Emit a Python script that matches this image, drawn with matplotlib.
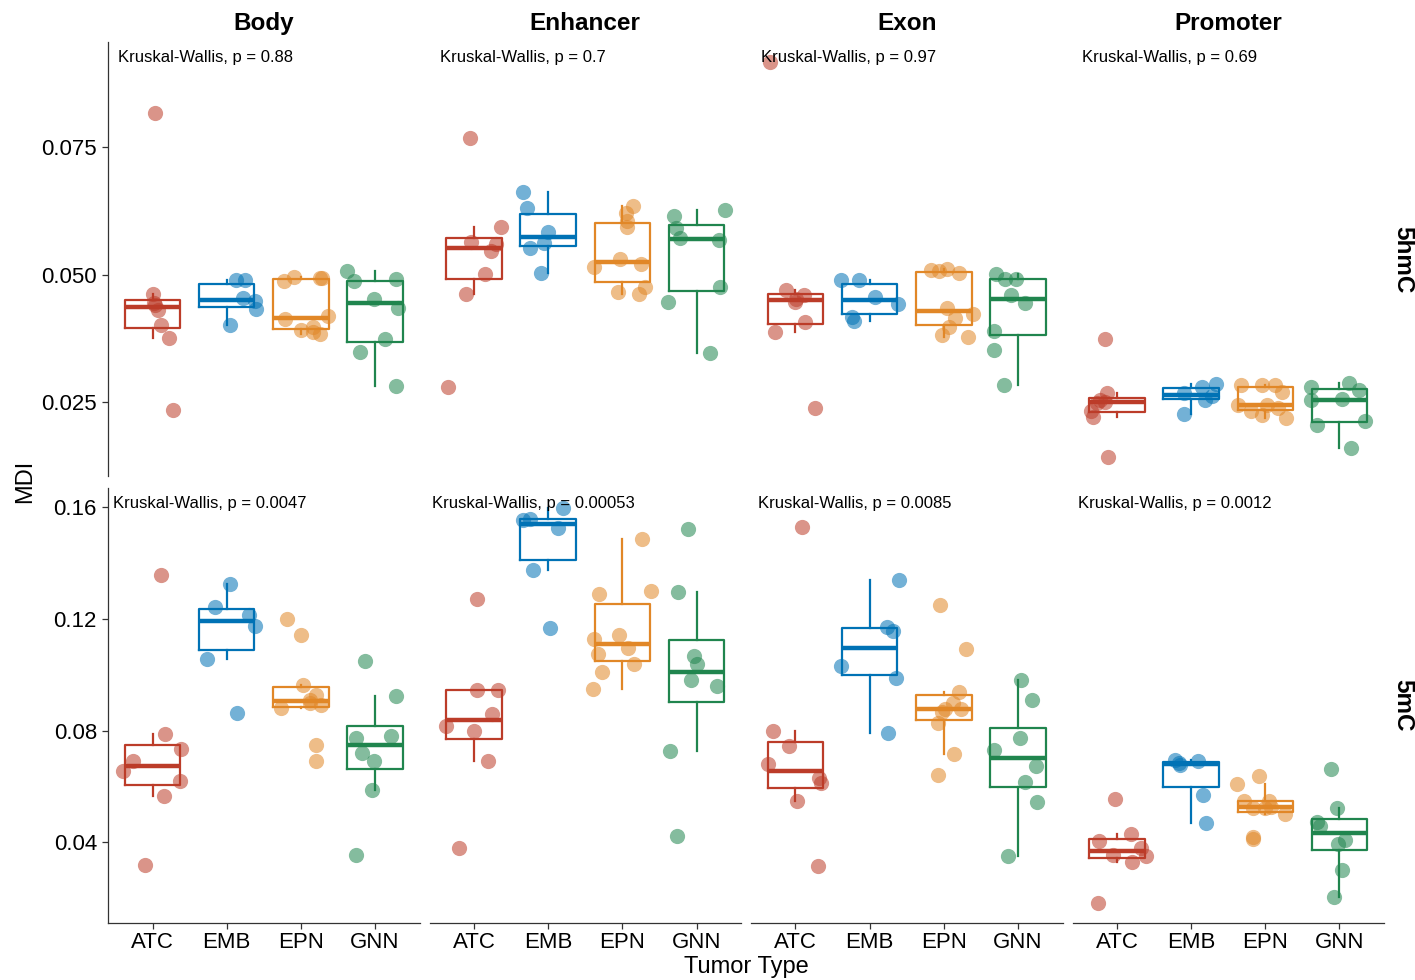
import matplotlib
matplotlib.use("Agg")
import matplotlib.pyplot as plt
import numpy as np

plt.rcParams['font.family'] = ['Liberation Sans', 'DejaVu Sans']

groups = ["ATC", "EMB", "EPN", "GNN"]
regions = ["Body", "Enhancer", "Exon", "Promoter"]
marks = ["5hmC", "5mC"]
colors = ["#BC3C29", "#0072B5", "#E18727", "#20854E"]

# ---- 5hmC values (per group: ATC, EMB, EPN, GNN) ----
body_5hmc = [
    [0.0816, 0.0462, 0.0445, 0.0440, 0.0431, 0.0402, 0.0376, 0.0234],
    [0.0490, 0.0490, 0.0454, 0.0448, 0.0432, 0.0402],
    [0.0487, 0.0495, 0.0494, 0.0493, 0.0413, 0.0418, 0.0392, 0.0398, 0.0388, 0.0383],
    [0.0506, 0.0487, 0.0492, 0.0452, 0.0435, 0.0373, 0.0349, 0.0281],
]
enhancer_5hmc = [
    [0.0768, 0.0594, 0.0564, 0.0560, 0.0546, 0.0501, 0.0462, 0.0280],
    [0.0662, 0.0630, 0.0584, 0.0553, 0.0562, 0.0504],
    [0.0635, 0.0620, 0.0604, 0.0594, 0.0531, 0.0515, 0.0520, 0.0476, 0.0465, 0.0462],
    [0.0627, 0.0615, 0.0592, 0.0571, 0.0568, 0.0475, 0.0447, 0.0347],
]
exon_5hmc = [
    [0.0917, 0.0469, 0.0453, 0.0459, 0.0447, 0.0408, 0.0388, 0.0238],
    [0.0490, 0.0490, 0.0457, 0.0442, 0.0417, 0.0409],
    [0.0509, 0.0506, 0.0510, 0.0503, 0.0435, 0.0423, 0.0414, 0.0397, 0.0381, 0.0378],
    [0.0502, 0.0492, 0.0492, 0.0459, 0.0444, 0.0390, 0.0353, 0.0283],
]
promoter_5hmc = [
    [0.0374, 0.0267, 0.0255, 0.0251, 0.0248, 0.0233, 0.0221, 0.0143],
    [0.0285, 0.0280, 0.0267, 0.0254, 0.0262, 0.0227],
    [0.0283, 0.0283, 0.0283, 0.0270, 0.0244, 0.0233, 0.0244, 0.0225, 0.0238, 0.0219],
    [0.0280, 0.0287, 0.0274, 0.0254, 0.0256, 0.0205, 0.0214, 0.0161],
]
# ---- 5mC values ----
body_5mc = [
    [0.1356, 0.0787, 0.0736, 0.0690, 0.0656, 0.0619, 0.0566, 0.0318],
    [0.1324, 0.1241, 0.1213, 0.1174, 0.1058, 0.0863],
    [0.1199, 0.1144, 0.0965, 0.0927, 0.0900, 0.0891, 0.0881, 0.0748, 0.0690, 0.0910],
    [0.1050, 0.0923, 0.0775, 0.0780, 0.0720, 0.0690, 0.0587, 0.0356],
]
enhancer_5mc = [
    [0.1273, 0.0945, 0.0945, 0.0859, 0.0817, 0.0798, 0.0690, 0.0380],
    [0.1598, 0.1553, 0.1559, 0.1527, 0.1374, 0.1169],
    [0.1485, 0.1291, 0.1300, 0.1142, 0.1127, 0.1096, 0.1076, 0.1040, 0.1010, 0.0948],
    [0.1521, 0.1297, 0.1067, 0.1038, 0.0983, 0.0959, 0.0727, 0.0423],
]
exon_5mc = [
    [0.1530, 0.0799, 0.0745, 0.0682, 0.0632, 0.0612, 0.0547, 0.0315],
    [0.1339, 0.1171, 0.1157, 0.1032, 0.0987, 0.0793],
    [0.1251, 0.1092, 0.0939, 0.0900, 0.0877, 0.0877, 0.0867, 0.0827, 0.0716, 0.0640],
    [0.0980, 0.0909, 0.0775, 0.0730, 0.0674, 0.0617, 0.0545, 0.0350],
]
promoter_5mc = [
    [0.0554, 0.0431, 0.0404, 0.0380, 0.0356, 0.0351, 0.0330, 0.0184],
    [0.0694, 0.0676, 0.0686, 0.0690, 0.0571, 0.0469],
    [0.0636, 0.0610, 0.0547, 0.0522, 0.0550, 0.0524, 0.0503, 0.0419, 0.0411, 0.0527],
    [0.0664, 0.0523, 0.0473, 0.0459, 0.0408, 0.0396, 0.0300, 0.0205],
]

# ---- horizontal jitter offsets (category units) ----
body_5hmc_jit = [
    [0.04, 0.0, 0.02, 0.03, 0.07, 0.12, 0.22, 0.27],
    [0.13, 0.25, 0.22, 0.38, 0.39, 0.04],
    [-0.23, -0.09, 0.26, 0.28, -0.21, 0.37, 0.0, 0.17, 0.17, 0.26],
    [-0.38, -0.28, 0.28, -0.02, 0.31, 0.14, -0.2, 0.28],
]
enhancer_5hmc_jit = [
    [-0.06, 0.37, -0.04, 0.29, 0.23, 0.15, -0.11, -0.35],
    [-0.34, -0.28, 0.0, -0.25, -0.05, -0.09],
    [0.14, 0.05, 0.06, 0.06, -0.03, -0.38, 0.25, 0.3, -0.06, 0.23],
    [0.39, -0.3, -0.28, -0.22, 0.3, 0.32, -0.39, 0.18],
]
exon_5hmc_jit = [
    [-0.35, -0.13, 0.01, 0.12, 0.0, 0.13, -0.27, 0.26],
    [-0.38, -0.14, 0.07, 0.38, -0.24, -0.21],
    [-0.17, -0.07, 0.04, 0.21, 0.04, 0.4, 0.15, 0.07, -0.03, 0.32],
    [-0.3, -0.18, -0.03, -0.1, 0.1, -0.33, -0.32, -0.19],
]
promoter_5hmc_jit = [
    [-0.16, -0.13, -0.23, -0.16, -0.27, -0.35, -0.33, -0.12],
    [0.33, 0.15, -0.1, 0.19, 0.28, -0.09],
    [-0.33, -0.04, 0.13, 0.22, -0.37, -0.2, 0.02, -0.04, 0.17, 0.28],
    [-0.38, 0.13, 0.26, -0.38, 0.04, -0.3, 0.35, 0.16],
]
body_5mc_jit = [
    [0.11, 0.17, 0.39, -0.26, -0.4, 0.37, 0.15, -0.1],
    [0.05, -0.16, 0.3, 0.38, -0.27, 0.14],
    [-0.19, 0.0, 0.03, 0.21, 0.13, 0.27, -0.27, 0.21, 0.21, 0.12],
    [-0.14, 0.28, -0.26, 0.22, -0.17, -0.02, -0.04, -0.26],
]
enhancer_5mc_jit = [
    [0.04, 0.04, 0.33, 0.24, -0.38, 0.0, 0.19, -0.2],
    [0.2, -0.34, -0.25, 0.13, -0.21, 0.03],
    [0.27, -0.31, 0.38, -0.04, -0.38, 0.08, -0.33, 0.16, -0.28, -0.39],
    [-0.11, -0.25, -0.04, 0.01, -0.08, 0.27, -0.36, -0.26],
]
exon_5mc_jit = [
    [0.09, -0.3, -0.09, -0.37, 0.32, 0.34, 0.02, 0.31],
    [0.39, 0.23, 0.32, -0.38, 0.35, 0.25],
    [-0.05, 0.3, 0.21, 0.12, 0.02, 0.23, -0.02, -0.08, 0.14, -0.08],
    [0.04, 0.19, 0.03, -0.32, 0.24, 0.09, 0.26, -0.13],
]
promoter_5mc_jit = [
    [-0.03, 0.19, -0.24, 0.32, -0.06, 0.39, 0.2, -0.25],
    [-0.22, -0.15, -0.17, 0.09, 0.16, 0.2],
    [-0.09, -0.38, -0.29, -0.16, 0.05, 0.0, 0.27, -0.17, -0.17, 0.08],
    [-0.12, -0.04, -0.3, -0.26, 0.08, -0.02, 0.04, -0.08],
]

pvals_5hmc = ["0.88", "0.7", "0.97", "0.69"]
pvals_5mc = ["0.0047", "0.00053", "0.0085", "0.0012"]

yticks_5hmc = [0.025, 0.050, 0.075]
yticklabels_5hmc = ["0.025", "0.050", "0.075"]
yticks_5mc = [0.04, 0.08, 0.12, 0.16]
yticklabels_5mc = ["0.04", "0.08", "0.12", "0.16"]

rows = [
    [body_5hmc, enhancer_5hmc, exon_5hmc, promoter_5hmc],
    [body_5mc, enhancer_5mc, exon_5mc, promoter_5mc],
]
jits = [
    [body_5hmc_jit, enhancer_5hmc_jit, exon_5hmc_jit, promoter_5hmc_jit],
    [body_5mc_jit, enhancer_5mc_jit, exon_5mc_jit, promoter_5mc_jit],
]
pvals = [pvals_5hmc, pvals_5mc]
yticks = [yticks_5hmc, yticks_5mc]
yticklabels = [yticklabels_5hmc, yticklabels_5mc]

W, H = 1415, 980
fig = plt.figure(figsize=(W / 100, H / 100), dpi=100)

col_left = [108, 429.5, 751, 1072.5]
col_w = 311.5
row_top = [42, 488]
row_h = 434.5
pv_dx = [[10, 11, 10, 10], [5, 3, 7, 6]]

axline = "#333333"
for r in range(2):
    allv = np.array([v for panel in rows[r] for grp in panel for v in grp])
    lo, hi = allv.min(), allv.max()
    pad = 0.05 * (hi - lo)
    for c in range(4):
        ax = fig.add_axes([col_left[c] / W, 1 - (row_top[r] + row_h) / H, col_w / W, row_h / H])
        data = rows[r][c]
        bp = ax.boxplot(data, positions=range(len(groups)), widths=0.75, whis=1.5,
                        showfliers=False, showcaps=False, patch_artist=False,
                        manage_ticks=False)
        for i, col in enumerate(colors):
            bp['boxes'][i].set(color=col, linewidth=1.6)
            bp['medians'][i].set(color=col, linewidth=3.2)
            for w in bp['whiskers'][2 * i:2 * i + 2]:
                w.set(color=col, linewidth=1.6)
        for i, col in enumerate(colors):
            xs = i + np.array(jits[r][c][i])
            ax.scatter(xs, data[i], s=120, color=col, alpha=0.55, linewidths=0, zorder=3)
        ax.set_xlim(-0.6, 3.6)
        ax.set_ylim(lo - pad, hi + pad)
        for s in ["top", "right"]:
            ax.spines[s].set_visible(False)
        ax.spines["left"].set_visible(c == 0)
        ax.spines["bottom"].set_visible(r == 1)
        ax.spines["left"].set_color(axline)
        ax.spines["bottom"].set_color(axline)
        ax.spines["left"].set_linewidth(0.9)
        ax.spines["bottom"].set_linewidth(0.9)
        ax.tick_params(colors=axline, labelcolor="black", labelsize=16, length=4.5, width=0.9)
        if c == 0:
            ax.set_yticks(yticks[r])
            ax.set_yticklabels(yticklabels[r])
        else:
            ax.set_yticks([])
        if r == 1:
            ax.set_xticks(range(len(groups)))
            ax.set_xticklabels(groups)
            ax.tick_params(axis="x", pad=2.5)
        else:
            ax.set_xticks([])
        ax.text(pv_dx[r][c] / col_w, 1 - 15 / row_h, "Kruskal-Wallis, p = " + pvals[r][c],
                transform=ax.transAxes, fontsize=12, ha="left", va="center")
        ax.patch.set_alpha(0)

for c in range(4):
    fig.text((col_left[c] + col_w / 2) / W, 1 - 23.5 / H, regions[c], fontsize=17.5,
             fontweight="bold", ha="center", va="center")
for r in range(2):
    fig.text(1403 / W, 1 - (row_top[r] + row_h / 2) / H, marks[r], fontsize=17.5,
             fontweight="bold", ha="center", va="center", rotation=-90)

fig.text(25 / W, 1 - 481 / H, "MDI", fontsize=17, rotation=90, ha="center", va="center")
fig.text(746 / W, 1 - 967 / H, "Tumor Type", fontsize=17, ha="center", va="center")

fig.savefig("out.png", dpi=100)
